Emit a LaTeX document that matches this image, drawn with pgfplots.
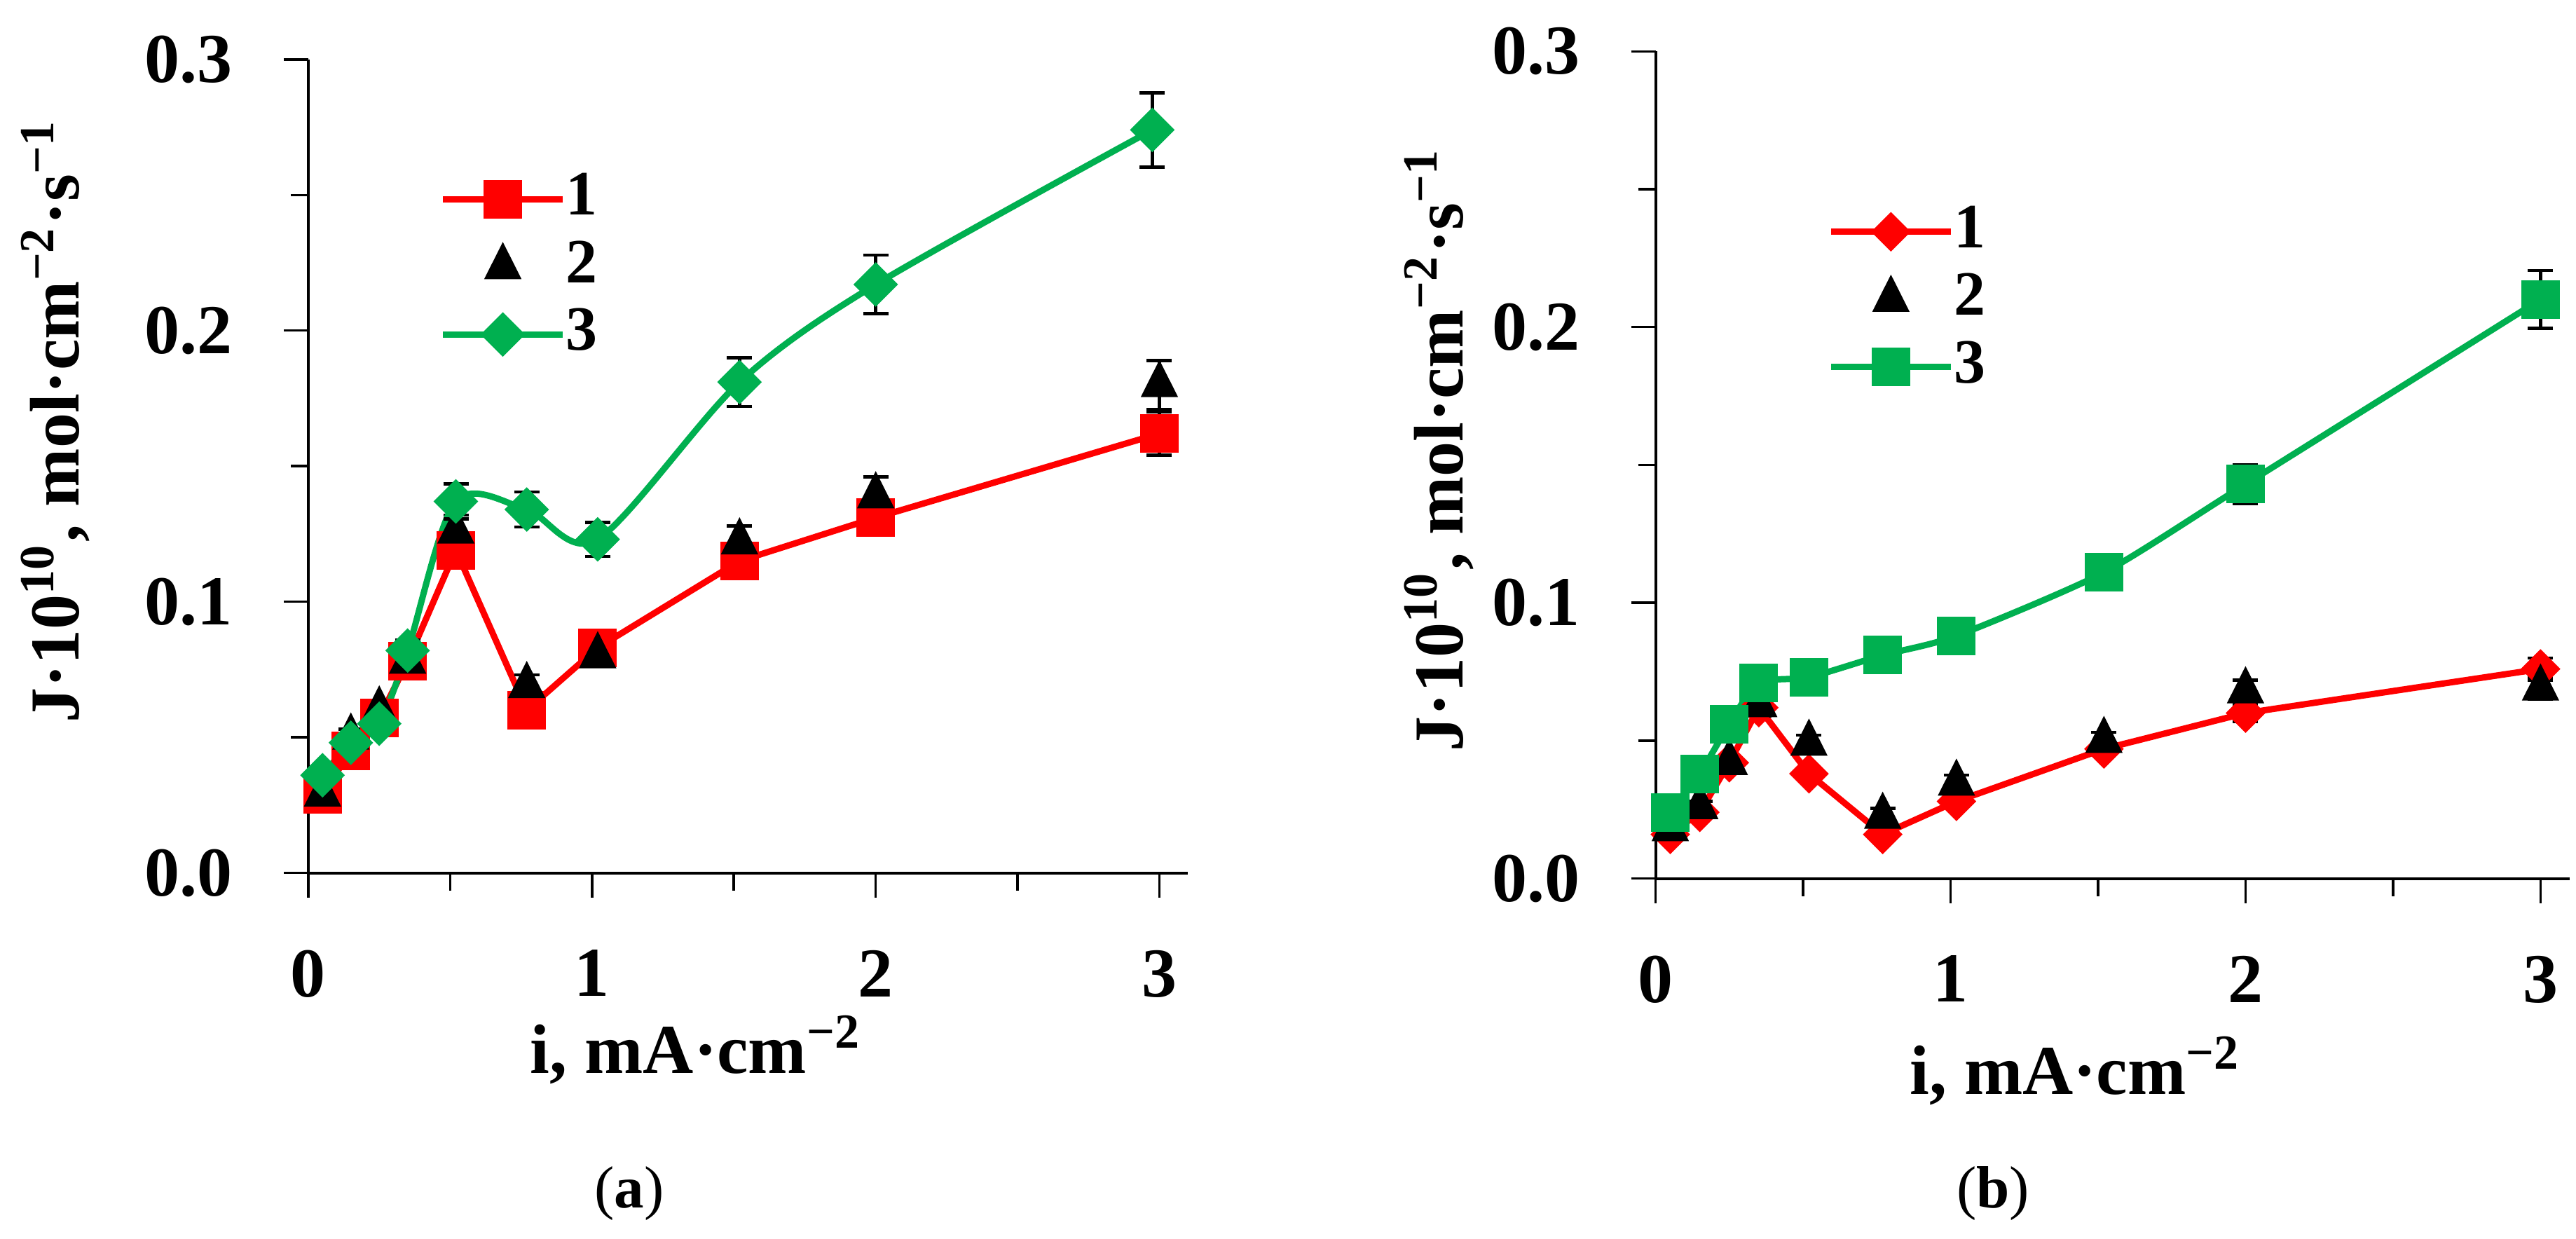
\documentclass[border=0pt]{standalone}
\usepackage{fontspec}
\setmainfont{Liberation Serif}
\usepackage{pgfplots}
\usepackage{pgfplotstable}
\pgfplotsset{compat=1.18}

\definecolor{xred}{HTML}{FF0000}
\definecolor{xgreen}{HTML}{00B050}

% panel (a): x = i, y = J*1e10, e = error
\pgfplotstableread{
x y e
0.05 0.029 0.003
0.15 0.045 0.003
0.25 0.057 0.003
0.35 0.078 0.003
0.52 0.119 0.005
0.77 0.060 0.003
1.02 0.083 0.003
1.52 0.115 0.005
2.00 0.131 0.006
3.00 0.162 0.008
}\aone
\pgfplotstableread{
x y e
0.05 0.029 0.002
0.15 0.050 0.003
0.25 0.060 0.003
0.35 0.078 0.003
0.52 0.126 0.006
0.77 0.069 0.004
1.02 0.080 0.003
1.52 0.122 0.006
2.00 0.139 0.007
3.00 0.180 0.009
}\atwo
\pgfplotstableread{
x y e
0.05 0.036 0.002
0.15 0.048 0.002
0.25 0.055 0.002
0.35 0.082 0.004
0.52 0.137 0.0065
0.77 0.134 0.0065
1.02 0.123 0.0063
1.52 0.181 0.009
2.00 0.217 0.0108
2.975 0.274 0.0137
}\athree

% panel (b)
\pgfplotstableread{
x y e
0.05 0.016 0.002
0.15 0.024 0.002
0.25 0.042 0.002
0.35 0.062 0.003
0.52 0.038 0.002
0.77 0.016 0.002
1.02 0.028 0.002
1.52 0.047 0.002
2.00 0.060 0.003
3.00 0.076 0.004
}\bone
\pgfplotstableread{
x y e
0.05 0.018 0.002
0.15 0.026 0.002
0.25 0.042 0.002
0.35 0.063 0.003
0.52 0.049 0.003
0.77 0.0225 0.003
1.02 0.0345 0.003
1.52 0.050 0.003
2.00 0.068 0.004
3.00 0.069 0.004
}\btwo
\pgfplotstableread{
x y e
0.05 0.024 0.002
0.15 0.038 0.002
0.25 0.056 0.002
0.35 0.071 0.002
0.52 0.073 0.002
0.77 0.081 0.002
1.02 0.088 0.003
1.52 0.111 0.003
2.00 0.143 0.007
3.00 0.210 0.0105
}\bthree

\pgfplotsset{
  jpanel/.style={
    scale only axis,
    xmin=0, xmax=3.1, ymin=0, ymax=0.3,
    axis lines*=left,
    axis line style={black, line width=0.4pt},
    tick align=outside,
    xtick={0,1,2,3}, xticklabels={0,1,2,3},
    minor xtick={0.5,1.5,2.5},
    ytick={0,0.1,0.2,0.3}, yticklabels={0.0,0.1,0.2,0.3},
    minor ytick={0.05,0.15,0.25},
    major tick length=3.5pt, minor tick length=2.5pt,
    tick style={black, line width=0.35pt},
    ticklabel style={font=\fontsize{10}{12}\selectfont\bfseries},
    yticklabel style={xshift=-3.8pt},
    xticklabel style={yshift=-4pt},
    label style={font=\fontsize{10}{12}\selectfont\bfseries},
    xlabel={i, mA·cm\textsuperscript{−2}},
    ylabel={J·10\textsuperscript{10}, mol·cm\textsuperscript{−2}·s\textsuperscript{−1}},
    legend cell align=left,
    legend style={draw=none, fill=none, inner sep=0pt, row sep=2.2pt,
      font=\fontsize{9}{10}\selectfont\bfseries,
      nodes={inner sep=0pt},
      /tikz/every even column/.append style={column sep=2pt}},
  },
  eb/.style={
    error bars/y dir=both, error bars/y explicit,
    error bars/error bar style={black, line width=0.45pt, solid},
    error bars/error mark options={rotate=90, mark size=1.8pt, black, line width=0.45pt},
  },
}

\begin{document}
\begin{tikzpicture}
\useasboundingbox (0,0) rectangle (367.6pt,176.8pt);

\begin{axis}[jpanel,
  at={(44pt,52.25pt)}, anchor=south west,
  width=125.5pt, height=116.07pt,
  xlabel style={at={(axis description cs:0.4414,0)}, anchor=base, yshift=-28.6pt},
  ylabel style={at={(axis description cs:-0.2876,0.556)}, anchor=center},
  legend style={at={(axis description cs:0.148,0.745)}, anchor=west},
]
\addplot[xred, line width=0.9pt, mark=square*, mark size=2.3pt,
  mark options={solid, fill=xred, draw=xred}, eb]
  table[x=x, y=y, y error=e] {\aone};
\addplot[black, only marks, mark=triangle*, mark size=2.7pt,
  mark options={yscale=1.15, fill=black}, eb]
  table[x=x, y=y, y error=e] {\atwo};
\addplot[xgreen, line width=0.9pt, smooth, mark=square*, mark size=1.8pt,
  mark options={rotate=45, solid, fill=xgreen, draw=xgreen}, eb]
  table[x=x, y=y, y error=e] {\athree};
\legend{1,2,3}
\end{axis}

\begin{axis}[jpanel,
  at={(236.25pt,51.44pt)}, anchor=south west,
  width=130.5pt, height=118.03pt,
  xlabel style={at={(axis description cs:0.4598,0)}, anchor=base, yshift=-30.8pt},
  ylabel style={at={(axis description cs:-0.2368,0.519)}, anchor=center},
  legend style={at={(axis description cs:0.187,0.70)}, anchor=west},
]
\addplot[xred, line width=0.9pt, mark=square*, mark size=1.55pt,
  mark options={rotate=45, solid, fill=xred, draw=xred}, eb]
  table[x=x, y=y, y error=e] {\bone};
\addplot[black, only marks, mark=triangle*, mark size=2.7pt,
  mark options={yscale=1.15, fill=black}, eb]
  table[x=x, y=y, y error=e] {\btwo};
\addplot[xgreen, line width=0.9pt, smooth, tension=0.4, mark=square*, mark size=2.3pt,
  mark options={solid, fill=xgreen, draw=xgreen}, eb]
  table[x=x, y=y, y error=e] {\bthree};
\legend{1,2,3}
\end{axis}

\node[anchor=base, font=\fontsize{8.5}{10}\selectfont] at (89.8pt,4.45pt) {(\textbf{a})};
\node[anchor=base, font=\fontsize{8.5}{10}\selectfont] at (284.4pt,4.45pt) {(\textbf{b})};
\end{tikzpicture}
\end{document}
